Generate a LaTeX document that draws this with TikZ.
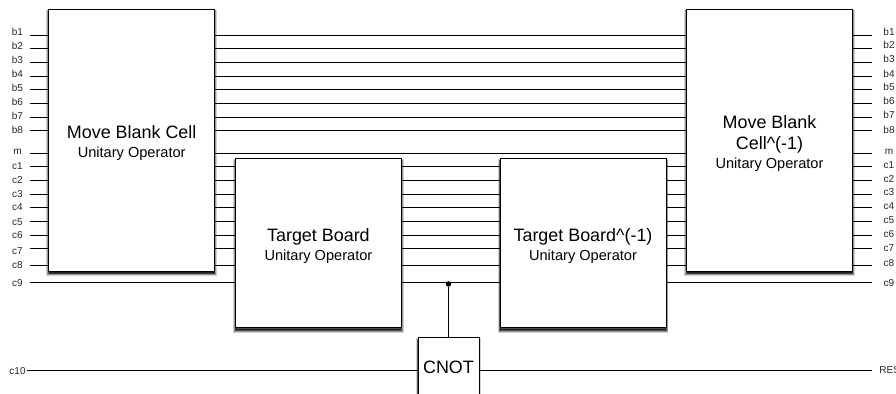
\documentclass[tikz,border=0pt]{standalone}
\usepackage{fontspec}
\setmainfont{Liberation Sans}
\usetikzlibrary{shadows}
\tikzset{
  softshadow/.style={
    general shadow={shadow xshift=0pt,shadow yshift=-1.5pt,fill=black,draw=black,line width=2.6pt,opacity=.18},
    general shadow={shadow xshift=0pt,shadow yshift=-1.3pt,fill=black,draw=black,line width=1.7pt,opacity=.28},
    general shadow={shadow xshift=0pt,shadow yshift=-1pt,fill=black,draw=black,line width=.9pt,opacity=.4}},
  opbox/.style={rectangle,softshadow,draw=black,fill=white,line width=.02cm,align=center,inner sep=0pt,font=\fontsize{10.2}{11.8}\selectfont},
  wire/.style={draw=black,line width=.02cm},
  wirelabel/.style={anchor=base,inner sep=0pt,font=\fontsize{5.7}{6}\selectfont,text=black!85},
}
\newcommand{\opsub}[1]{{\fontsize{8.3}{10}\selectfont #1}}
\newcommand{\optop}{\rule{0pt}{10.7pt}}
\begin{document}
\begin{tikzpicture}[x=.02cm,y=-.02cm]
\useasboundingbox (0,0) rectangle (896,394);
\coordinate (bl1) at (30,35.5); \coordinate (br1) at (872,35.5); \draw[wire] (bl1) -- (br1);
\coordinate (bl2) at (30,49); \coordinate (br2) at (872,49); \draw[wire] (bl2) -- (br2);
\coordinate (bl3) at (30,62.5); \coordinate (br3) at (872,62.5); \draw[wire] (bl3) -- (br3);
\coordinate (bl4) at (30,76.5); \coordinate (br4) at (872,76.5); \draw[wire] (bl4) -- (br4);
\coordinate (bl5) at (30,90); \coordinate (br5) at (872,90); \draw[wire] (bl5) -- (br5);
\coordinate (bl6) at (30,103.5); \coordinate (br6) at (872,103.5); \draw[wire] (bl6) -- (br6);
\coordinate (bl7) at (30,117.5); \coordinate (br7) at (872,117.5); \draw[wire] (bl7) -- (br7);
\coordinate (bl8) at (30,131); \coordinate (br8) at (872,131); \draw[wire] (bl8) -- (br8);
\coordinate (ml) at (30,153.5); \coordinate (mr) at (872,153.5); \draw[wire] (ml) -- (mr);
\coordinate (cl1) at (30,167); \coordinate (cr1) at (872,167); \draw[wire] (cl1) -- (cr1);
\coordinate (cl2) at (30,180.5); \coordinate (cr2) at (872,180.5); \draw[wire] (cl2) -- (cr2);
\coordinate (cl3) at (30,194.5); \coordinate (cr3) at (872,194.5); \draw[wire] (cl3) -- (cr3);
\coordinate (cl4) at (30,208); \coordinate (cr4) at (872,208); \draw[wire] (cl4) -- (cr4);
\coordinate (cl5) at (30,221.5); \coordinate (cr5) at (872,221.5); \draw[wire] (cl5) -- (cr5);
\coordinate (cl6) at (30,235.5); \coordinate (cr6) at (872,235.5); \draw[wire] (cl6) -- (cr6);
\coordinate (cl7) at (30,249); \coordinate (cr7) at (872,249); \draw[wire] (cl7) -- (cr7);
\coordinate (cl8) at (30,265.5); \coordinate (cr8) at (872,265.5); \draw[wire] (cl8) -- (cr8);
\coordinate (cl9) at (30,283); \coordinate (cr9) at (872,283); \draw[wire] (cl9) -- (cr9);
\coordinate (cl10) at (27,371); \coordinate (res) at (872,371); \draw[wire] (cl10) -- (res);
\node[wirelabel] (tbl1) at (17.5,35.5) {b1};
\node[wirelabel] (tbl2) at (17.5,49.2) {b2};
\node[wirelabel] (tbl3) at (17.5,63.5) {b3};
\node[wirelabel] (tbl4) at (17.5,78) {b4};
\node[wirelabel] (tbl5) at (17.5,91.5) {b5};
\node[wirelabel] (tbl6) at (17.5,105.5) {b6};
\node[wirelabel] (tbl7) at (17.5,119.5) {b7};
\node[wirelabel] (tbl8) at (17.5,134) {b8};
\node[wirelabel] (tml) at (17.5,155) {m};
\node[wirelabel] (tcl1) at (17.5,169.5) {c1};
\node[wirelabel] (tcl2) at (17.5,184) {c2};
\node[wirelabel] (tcl3) at (17.5,198) {c3};
\node[wirelabel] (tcl4) at (17.5,211) {c4};
\node[wirelabel] (tcl5) at (17.5,225.5) {c5};
\node[wirelabel] (tcl6) at (17.5,239) {c6};
\node[wirelabel] (tcl7) at (17.5,254.5) {c7};
\node[wirelabel] (tcl8) at (17.5,269) {c8};
\node[wirelabel] (tcl9) at (17.5,287) {c9};
\node[wirelabel] (tcl10) at (17.5,374.5) {c10};
\node[wirelabel] (tbr1) at (889,35.5) {b1};
\node[wirelabel] (tbr2) at (889,49) {b2};
\node[wirelabel] (tbr3) at (889,63) {b3};
\node[wirelabel] (tbr4) at (889,77.5) {b4};
\node[wirelabel] (tbr5) at (889,91) {b5};
\node[wirelabel] (tbr6) at (889,105) {b6};
\node[wirelabel] (tbr7) at (889,119) {b7};
\node[wirelabel] (tbr8) at (889,134) {b8};
\node[wirelabel] (tmr) at (889,155) {m};
\node[wirelabel] (tcr1) at (889,168.5) {c1};
\node[wirelabel] (tcr2) at (889,182.5) {c2};
\node[wirelabel] (tcr3) at (889,195.5) {c3};
\node[wirelabel] (tcr4) at (889,210) {c4};
\node[wirelabel] (tcr5) at (889,224) {c5};
\node[wirelabel] (tcr6) at (889,238) {c6};
\node[wirelabel] (tcr7) at (889,252) {c7};
\node[wirelabel] (tcr8) at (889,267) {c8};
\node[wirelabel] (tcr9) at (889,287) {c9};
\node[wirelabel,anchor=base west] (tres) at (879,374) {RES};
\node[opbox,minimum width=166*.02cm,minimum height=262*.02cm] (moveblank) at (131.7,140.5) {\optop Move Blank Cell\\[-1.1pt]\opsub{Unitary Operator}};
\node[opbox,minimum width=166*.02cm,minimum height=169*.02cm] (target) at (318.4,243.5) {\optop Target Board\\[-1.1pt]\opsub{Unitary Operator}};
\node[opbox,minimum width=166*.02cm,minimum height=169*.02cm] (targetinv) at (583,243.5) {\optop Target Board\textasciicircum(-1)\\[-1.1pt]\opsub{Unitary Operator}};
\node[opbox,minimum width=166*.02cm,minimum height=262*.02cm] (moveblankinv) at (769.5,140.5) {\optop Move Blank\\Cell\textasciicircum(-1)\\[-1.1pt]\opsub{Unitary Operator}};
\node[opbox,minimum width=61*.02cm,minimum height=66*.02cm] (cnot) at (448.5,371) {\rule[-4.6pt]{0pt}{0pt}CNOT};
\node[circle,fill=black,inner sep=0pt,minimum size=5.5*.02cm] (ctrl) at (448.5,284) {};
\draw[wire] (ctrl) -- (cnot);
\end{tikzpicture}
\end{document}
